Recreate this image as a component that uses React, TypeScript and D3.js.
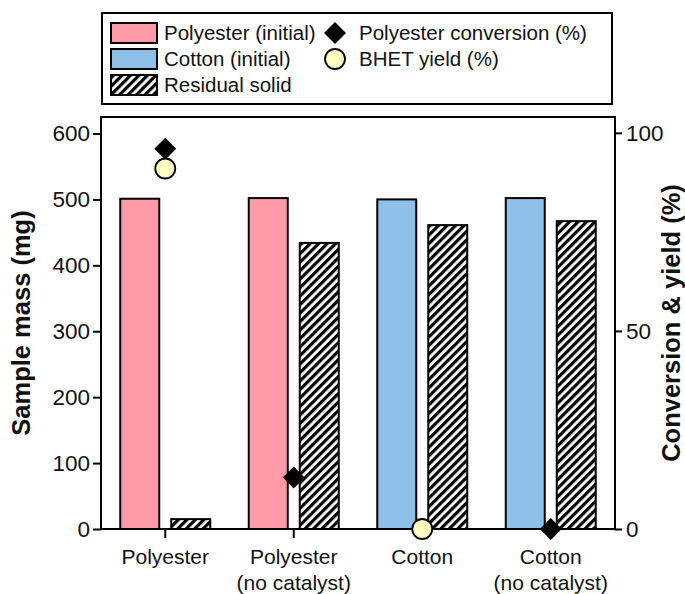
import * as d3 from "d3";
import React, { useEffect, useRef } from 'react'

const categories = ["Polyester", "Polyester (no catalyst)", "Cotton", "Cotton (no catalyst)"]
const categoryLines = [["Polyester"], ["Polyester", "(no catalyst)"], ["Cotton"], ["Cotton", "(no catalyst)"]]
const initialMass = [501, 502, 500, 502]
const initialKind = ["polyester", "polyester", "cotton", "cotton"]
const residualMass = [15, 434, 461, 467]
const conversion = [96, 13, null, 0] as (number | null)[]
const bhetYield = [91, null, 0, null] as (number | null)[]
const leftTicks = [0, 100, 200, 300, 400, 500, 600]
const rightTicks = [0, 50, 100]

const PINK = "#ff9aa6"
const BLUE = "#8ebfe6"
const YELLOW = "#ffffc2"
const FONT = "Arial, 'Liberation Sans', sans-serif"

const drawChart = (node: SVGSVGElement) => {
  const width = 685
  const height = 594
  const m = { left: 101, right: 70, top: 117, bottom: 65 }

  const svg = d3.select(node)
    .attr('width', width)
    .attr('height', height)
    .style('font-family', FONT)

  svg.selectAll('*').remove()

  const defs = svg.append('defs')
  const pat = defs.append('pattern')
    .attr('id', 'hatch')
    .attr('patternUnits', 'userSpaceOnUse')
    .attr('width', 6)
    .attr('height', 6)
    .attr('patternTransform', 'rotate(45)')
  pat.append('rect').attr('width', 6).attr('height', 6).attr('fill', 'white')
  pat.append('rect').attr('width', 3.2).attr('height', 6).attr('fill', 'black')

  const x = d3.scaleBand<string>()
    .domain(categories)
    .range([m.left, width - m.right])
    .padding(0)
  const y = d3.scaleLinear().domain([0, 625]).range([height - m.bottom, m.top])
  const y2 = d3.scaleLinear().domain([0, 104]).range([height - m.bottom, m.top])

  const barW = 39
  const gap = 6
  const cx = (i: number) => (x(categories[i]) as number) + x.bandwidth() / 2

  // initial bars
  svg.append('g').selectAll('rect')
    .data(initialMass)
    .enter()
    .append('rect')
    .attr('x', (d, i) => cx(i) - gap - barW)
    .attr('y', (d) => y(d))
    .attr('width', barW)
    .attr('height', (d) => y(0) - y(d))
    .attr('fill', (d, i) => initialKind[i] === 'polyester' ? PINK : BLUE)
    .attr('stroke', 'black')
    .attr('stroke-width', 2)

  // residual bars
  svg.append('g').selectAll('rect')
    .data(residualMass)
    .enter()
    .append('rect')
    .attr('x', (d, i) => cx(i) + gap)
    .attr('y', (d) => y(d))
    .attr('width', barW)
    .attr('height', (d) => y(0) - y(d))
    .attr('fill', 'url(#hatch)')
    .attr('stroke', 'black')
    .attr('stroke-width', 2)

  // frame
  const left = m.left, right = width - m.right, top = m.top, bottom = height - m.bottom
  svg.append('rect')
    .attr('x', left).attr('y', top)
    .attr('width', right - left).attr('height', bottom - top)
    .attr('fill', 'none').attr('stroke', 'black').attr('stroke-width', 2)

  // left axis
  const yAxis = svg.append('g')
    .attr('transform', `translate(${left},0)`)
    .call(d3.axisLeft(y).tickValues(leftTicks).tickSize(8).tickPadding(3))
  yAxis.select('.domain').remove()
  yAxis.selectAll('line').attr('stroke-width', 2)
  yAxis.selectAll('text').style('font-size', '22.5px').style('font-family', FONT).attr('fill', '#111')

  // right axis
  const y2Axis = svg.append('g')
    .attr('transform', `translate(${right},0)`)
    .call(d3.axisRight(y2).tickValues(rightTicks).tickSize(7).tickPadding(4))
  y2Axis.select('.domain').remove()
  y2Axis.selectAll('line').attr('stroke-width', 2)
  y2Axis.selectAll('text').style('font-size', '22.5px').style('font-family', FONT).attr('fill', '#111')

  // x ticks and labels
  const xg = svg.append('g')
  categories.forEach((c, i) => {
    xg.append('line')
      .attr('x1', cx(i)).attr('x2', cx(i))
      .attr('y1', bottom).attr('y2', bottom + 9)
      .attr('stroke', 'black').attr('stroke-width', 2)
    categoryLines[i].forEach((t, j) => {
      xg.append('text')
        .attr('x', cx(i))
        .attr('y', bottom + 35 + j * 26)
        .attr('text-anchor', 'middle')
        .style('font-size', '21px')
        .attr('fill', '#111')
        .text(t)
    })
  })

  // axis titles
  svg.append('text')
    .attr('transform', `translate(30,${(top + bottom) / 2}) rotate(-90)`)
    .attr('text-anchor', 'middle')
    .style('font-size', '25.5px')
    .style('font-weight', 'bold')
    .attr('fill', '#111')
    .text('Sample mass (mg)')
  svg.append('text')
    .attr('transform', `translate(680,${(top + bottom) / 2}) rotate(-90)`)
    .attr('text-anchor', 'middle')
    .style('font-size', '25.5px')
    .style('font-weight', 'bold')
    .attr('fill', '#111')
    .text('Conversion & yield (%)')

  // markers
  const diamond = d3.symbol().type(d3.symbolSquare).size(240)
  svg.append('g').selectAll('path')
    .data(conversion.map((v, i) => ({ v, i })).filter((d) => d.v !== null))
    .enter()
    .append('path')
    .attr('d', diamond as any)
    .attr('transform', (d) => `translate(${cx(d.i)},${y2(d.v as number)}) rotate(45)`)
    .attr('fill', 'black')

  svg.append('g').selectAll('circle')
    .data(bhetYield.map((v, i) => ({ v, i })).filter((d) => d.v !== null))
    .enter()
    .append('circle')
    .attr('cx', (d) => cx(d.i))
    .attr('cy', (d) => y2(d.v as number))
    .attr('r', 10)
    .attr('fill', YELLOW)
    .attr('stroke', 'black')
    .attr('stroke-width', 1.8)

  // legend
  const lg = svg.append('g')
  lg.append('rect')
    .attr('x', 102).attr('y', 13).attr('width', 510).attr('height', 91)
    .attr('fill', 'white').attr('stroke', 'black').attr('stroke-width', 2)
  const swatches = [
    { label: 'Polyester (initial)', fill: PINK },
    { label: 'Cotton (initial)', fill: BLUE },
    { label: 'Residual solid', fill: 'url(#hatch)' },
  ]
  swatches.forEach((s, i) => {
    const cy = 33 + i * 26
    lg.append('rect')
      .attr('x', 111).attr('y', cy - 10).attr('width', 46).attr('height', 20)
      .attr('fill', s.fill).attr('stroke', 'black').attr('stroke-width', 2)
    lg.append('text')
      .attr('x', 164).attr('y', cy + 7)
      .style('font-size', '20.5px').attr('fill', '#111')
      .text(s.label)
  })
  lg.append('path')
    .attr('d', diamond as any)
    .attr('transform', 'translate(335,33) rotate(45)')
    .attr('fill', 'black')
  lg.append('text')
    .attr('x', 359).attr('y', 40)
    .style('font-size', '20.5px').attr('fill', '#111')
    .text('Polyester conversion (%)')
  lg.append('circle')
    .attr('cx', 335).attr('cy', 59).attr('r', 10)
    .attr('fill', YELLOW).attr('stroke', 'black').attr('stroke-width', 1.8)
  lg.append('text')
    .attr('x', 359).attr('y', 66)
    .style('font-size', '20.5px').attr('fill', '#111')
    .text('BHET yield (%)')
}

export default function App() {
  const ref = useRef<SVGSVGElement>(null)
  useEffect(() => {
    document.body.style.margin = '0'
    if (ref.current) drawChart(ref.current)
  })
  return (
    <svg ref={ref} style={{ display: 'block' }} />
  )
}
